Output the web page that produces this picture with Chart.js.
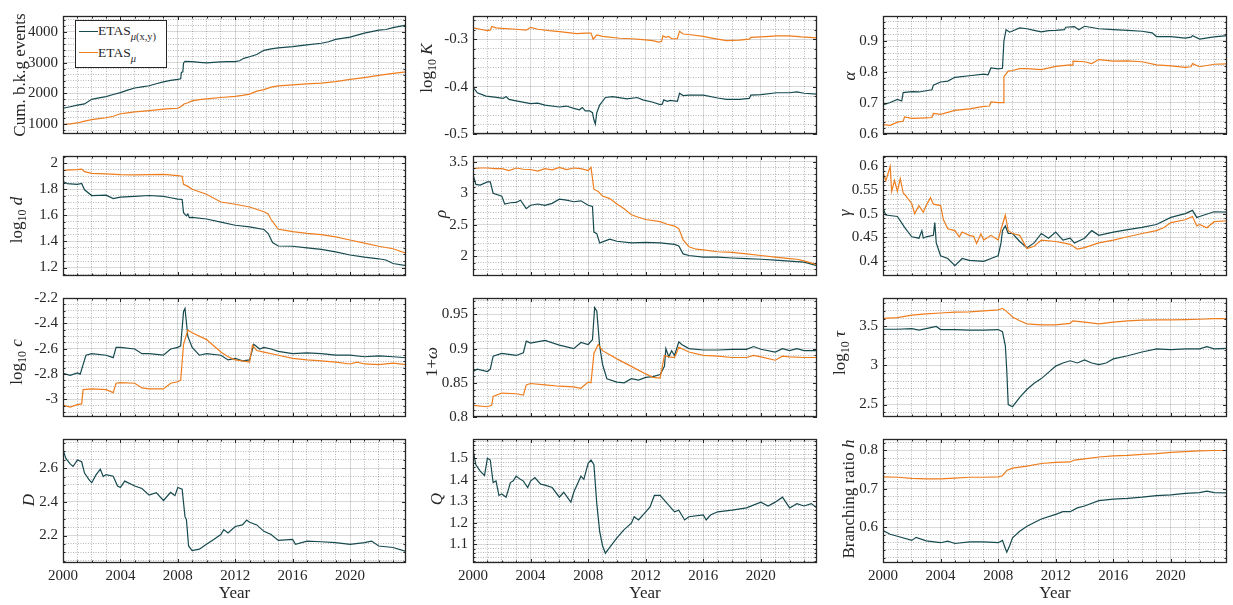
<!DOCTYPE html>
<html>
<head>
<meta charset="utf-8">
<script src="https://cdn.jsdelivr.net/npm/chart.js@4.4.1/dist/chart.umd.min.js"></script>
<style>
  body { margin: 0; background: #fff; }
  #fig { position: relative; width: 1233px; height: 605px; overflow: hidden; font-family: "Liberation Serif", "Times New Roman", serif; color: #262626; }
  .ylab { position: absolute; transform: translate(-50%, -50%) rotate(-90deg); white-space: nowrap; font-size: 17px; line-height: 18px; }
  .ylab sub, .leg sub { font-size: 12px; position: relative; top: 0.35em; vertical-align: baseline; }
  .xlab { position: absolute; transform: translate(-50%, -50%); font-size: 17px; line-height: 18px; }
  #legend { position: absolute; left: 75px; top: 20px; width: 90px; height: 46px; border: 1px solid #262626; background: #fff; }
  .lline { position: absolute; height: 1.3px; width: 19px; left: 3px; }
  .leg { position: absolute; left: 22px; font-size: 13.5px; line-height: 14px; white-space: nowrap; }
  .leg sub { font-size: 10.5px; top: 0.45em; }
</style>
</head>
<body>
<div id="fig"></div>
<script>
// x = decimal year, y = parameter value (ETAS mu(x,y) teal, ETAS mu orange)
const cumXY = [[2000,1510],[2000.5,1560],[2001,1610],[2001.5,1650],[2002,1800],[2002.5,1850],[2003,1890],[2003.5,1960],[2004,2020],[2004.5,2100],[2005,2170],[2005.5,2210],[2006,2245],[2006.5,2310],[2007,2370],[2007.5,2420],[2008,2450],[2008.2,2470],[2008.25,2680],[2008.35,2700],[2008.4,2990],[2008.5,3040],[2009,3030],[2009.5,3010],[2010,2990],[2010.5,3010],[2011,3020],[2011.5,3030],[2012,3030],[2012.3,3060],[2012.6,3140],[2013,3190],[2013.5,3265],[2014,3400],[2014.5,3450],[2015,3480],[2016,3520],[2017,3580],[2018,3630],[2018.5,3680],[2019,3755],[2020,3830],[2021,3960],[2022,4060],[2022.5,4080],[2023,4140],[2023.9,4220]];
const cumMu = [[2000,980],[2000.5,1000],[2001,1030],[2001.5,1090],[2002,1140],[2002.5,1170],[2003,1200],[2003.5,1250],[2004,1330],[2004.5,1360],[2005,1390],[2006,1430],[2007,1480],[2007.5,1500],[2008,1510],[2008.2,1560],[2008.4,1640],[2008.7,1690],[2009,1750],[2009.5,1790],[2010,1815],[2011,1860],[2012,1900],[2012.5,1930],[2013,1970],[2013.5,2070],[2014,2120],[2014.5,2200],[2015,2240],[2016,2275],[2017,2305],[2018,2330],[2019,2380],[2020,2450],[2021,2510],[2022,2580],[2023,2650],[2023.9,2700]];

const logK_XY = [[2000,-0.401],[2000.3,-0.413],[2000.9,-0.42],[2001.5,-0.422],[2002.1,-0.425],[2002.3,-0.421],[2002.5,-0.427],[2003,-0.430],[2004,-0.436],[2004.5,-0.435],[2005,-0.439],[2006,-0.443],[2006.5,-0.441],[2007,-0.446],[2007.4,-0.449],[2007.6,-0.444],[2007.8,-0.451],[2008.1,-0.451],[2008.3,-0.455],[2008.4,-0.470],[2008.5,-0.479],[2008.6,-0.455],[2008.8,-0.439],[2009.2,-0.423],[2009.7,-0.421],[2010.7,-0.426],[2011.4,-0.423],[2011.8,-0.428],[2012.5,-0.433],[2013,-0.438],[2013.15,-0.437],[2013.25,-0.428],[2013.5,-0.431],[2013.7,-0.429],[2014.2,-0.431],[2014.35,-0.414],[2014.6,-0.419],[2015,-0.418],[2016,-0.418],[2017,-0.424],[2017.6,-0.427],[2018.5,-0.427],[2019.2,-0.425],[2019.3,-0.418],[2020,-0.417],[2021.1,-0.413],[2022,-0.413],[2022.5,-0.411],[2023,-0.414],[2023.9,-0.416]];
const logK_Mu = [[2000,-0.276],[2000.5,-0.279],[2001,-0.282],[2001.2,-0.281],[2001.3,-0.273],[2001.6,-0.276],[2002,-0.277],[2003,-0.279],[2003.7,-0.281],[2004,-0.275],[2004.5,-0.279],[2005.3,-0.282],[2006,-0.284],[2007.2,-0.288],[2007.8,-0.287],[2008.2,-0.287],[2008.35,-0.3],[2008.6,-0.291],[2009,-0.294],[2010.2,-0.298],[2011,-0.299],[2011.8,-0.301],[2012.5,-0.303],[2012.9,-0.306],[2013.1,-0.305],[2013.2,-0.293],[2013.4,-0.296],[2013.6,-0.294],[2013.8,-0.299],[2014.2,-0.299],[2014.35,-0.283],[2014.6,-0.289],[2015,-0.290],[2016,-0.294],[2016.5,-0.297],[2017.6,-0.303],[2018.5,-0.302],[2019.2,-0.300],[2019.3,-0.296],[2020,-0.295],[2021.1,-0.293],[2022,-0.293],[2022.8,-0.295],[2023.9,-0.297]];

const alphaXY = [[2000,0.693],[2000.5,0.701],[2001,0.711],[2001.3,0.706],[2001.4,0.733],[2002,0.736],[2002.5,0.735],[2003,0.739],[2003.4,0.742],[2003.5,0.757],[2004,0.767],[2004.5,0.770],[2005,0.782],[2006,0.787],[2007,0.792],[2007.3,0.790],[2007.5,0.812],[2008,0.809],[2008.3,0.811],[2008.4,0.898],[2008.55,0.935],[2008.8,0.927],[2009.5,0.941],[2010,0.938],[2010.5,0.933],[2011,0.928],[2011.5,0.932],[2012,0.933],[2012.6,0.935],[2012.7,0.943],[2013.3,0.945],[2013.6,0.935],[2014,0.946],[2014.5,0.942],[2015,0.938],[2016,0.935],[2017,0.933],[2018,0.930],[2018.7,0.925],[2019,0.913],[2020,0.913],[2021,0.908],[2021.4,0.911],[2021.5,0.916],[2022,0.905],[2023,0.912],[2023.9,0.916]];
const alphaMu = [[2000,0.630],[2000.5,0.628],[2001,0.638],[2001.4,0.641],[2001.5,0.655],[2002,0.650],[2003,0.652],[2003.4,0.653],[2003.5,0.666],[2004,0.663],[2005,0.676],[2006,0.681],[2007,0.689],[2007.4,0.690],[2007.5,0.703],[2008,0.701],[2008.35,0.701],[2008.4,0.784],[2008.7,0.802],[2009,0.804],[2009.5,0.810],[2010,0.810],[2011,0.807],[2012,0.817],[2013,0.822],[2013.15,0.821],[2013.2,0.834],[2014,0.832],[2014.5,0.826],[2015,0.839],[2016,0.834],[2017,0.835],[2018,0.832],[2019,0.822],[2020,0.819],[2021,0.814],[2021.4,0.816],[2021.5,0.826],[2022,0.816],[2023,0.824],[2023.9,0.825]];

const logD_XY = [[2000,1.86],[2000.3,1.843],[2001,1.838],[2001.3,1.845],[2001.5,1.796],[2002,1.752],[2003,1.755],[2003.5,1.728],[2004,1.74],[2005,1.745],[2006,1.752],[2007,1.745],[2007.5,1.735],[2008,1.725],[2008.3,1.722],[2008.4,1.62],[2008.6,1.596],[2008.7,1.61],[2008.8,1.582],[2009,1.584],[2010,1.572],[2011,1.548],[2012,1.524],[2013,1.512],[2014,1.492],[2014.3,1.46],[2014.6,1.391],[2015,1.365],[2016,1.363],[2017,1.351],[2018,1.339],[2019,1.32],[2020,1.296],[2021,1.279],[2022,1.267],[2022.5,1.258],[2023,1.231],[2023.9,1.214]];
const logD_Mu = [[2000,1.944],[2000.5,1.948],[2001,1.950],[2001.3,1.955],[2001.5,1.935],[2002,1.922],[2003,1.918],[2004,1.912],[2005,1.910],[2006,1.912],[2007,1.914],[2008,1.905],[2008.3,1.900],[2008.4,1.838],[2008.7,1.822],[2009,1.80],[2010,1.762],[2011,1.702],[2012,1.685],[2013,1.664],[2014,1.628],[2014.3,1.610],[2014.5,1.568],[2015,1.493],[2015.5,1.485],[2016,1.475],[2017,1.462],[2018,1.452],[2019,1.435],[2020,1.411],[2021,1.387],[2022,1.363],[2023,1.344],[2023.5,1.325],[2023.9,1.31]];

const rhoXY = [[2000,3.30],[2000.2,3.14],[2000.5,3.13],[2001,3.18],[2001.2,3.18],[2001.4,3.0],[2002,2.955],[2002.2,2.83],[2002.6,2.85],[2003,2.855],[2003.3,2.89],[2003.7,2.757],[2004,2.81],[2004.5,2.83],[2005,2.81],[2005.5,2.84],[2006,2.906],[2006.5,2.89],[2007,2.866],[2007.5,2.88],[2008,2.81],[2008.3,2.79],[2008.4,2.386],[2008.6,2.36],[2008.8,2.213],[2009,2.23],[2009.5,2.272],[2010,2.24],[2011,2.213],[2012,2.223],[2013,2.213],[2014,2.19],[2014.3,2.165],[2014.6,2.04],[2015,2.015],[2016,1.99],[2017,1.99],[2018,1.975],[2019,1.965],[2020,1.955],[2021,1.94],[2022,1.925],[2023,1.91],[2023.9,1.855]];
const rhoMu = [[2000,3.39],[2000.5,3.40],[2001,3.40],[2001.5,3.39],[2002,3.39],[2002.5,3.36],[2003,3.40],[2003.5,3.38],[2004,3.376],[2004.5,3.35],[2005,3.39],[2005.5,3.37],[2006,3.41],[2006.5,3.376],[2007,3.40],[2007.5,3.39],[2008,3.36],[2008.2,3.41],[2008.4,3.064],[2008.7,3.03],[2009,2.955],[2009.5,2.915],[2010,2.83],[2010.5,2.755],[2011,2.66],[2011.5,2.62],[2012,2.584],[2013,2.55],[2013.5,2.51],[2014,2.48],[2014.3,2.44],[2014.6,2.26],[2015,2.153],[2015.5,2.114],[2016,2.104],[2017,2.074],[2018,2.064],[2019,2.04],[2020,2.015],[2021,1.99],[2022,1.965],[2022.5,1.955],[2023,1.93],[2023.9,1.87]];

const gammaXY = [[2000,0.511],[2000.2,0.497],[2001,0.494],[2001.5,0.471],[2002,0.451],[2002.5,0.448],[2002.7,0.464],[2002.8,0.448],[2003,0.451],[2003.5,0.454],[2003.6,0.481],[2003.7,0.438],[2004,0.411],[2004.5,0.405],[2005,0.39],[2005.5,0.405],[2006,0.401],[2007,0.399],[2007.5,0.405],[2008,0.411],[2008.2,0.438],[2008.3,0.464],[2008.5,0.474],[2008.7,0.458],[2009,0.458],[2009.5,0.441],[2010,0.428],[2010.5,0.438],[2011,0.458],[2011.5,0.448],[2012,0.461],[2012.5,0.444],[2013,0.448],[2013.3,0.438],[2014,0.448],[2014.5,0.464],[2015,0.454],[2016,0.461],[2017,0.466],[2018,0.471],[2019,0.477],[2020,0.492],[2021,0.50],[2021.5,0.507],[2021.8,0.492],[2022,0.494],[2023,0.504],[2023.9,0.503]];
const gammaMu = [[2000,0.587],[2000.2,0.570],[2000.35,0.585],[2000.5,0.60],[2000.6,0.547],[2000.8,0.570],[2001,0.547],[2001.2,0.574],[2001.4,0.544],[2001.6,0.537],[2002,0.521],[2002.2,0.50],[2002.5,0.517],[2002.8,0.503],[2003,0.517],[2003.3,0.534],[2003.5,0.52],[2004,0.517],[2004.2,0.487],[2004.5,0.468],[2005,0.464],[2005.3,0.451],[2005.5,0.461],[2006,0.454],[2006.3,0.452],[2006.5,0.437],[2006.8,0.457],[2007,0.444],[2007.5,0.454],[2008,0.444],[2008.2,0.467],[2008.5,0.497],[2008.7,0.464],[2009,0.458],[2009.5,0.454],[2010,0.426],[2010.5,0.431],[2011,0.444],[2012,0.441],[2012.5,0.438],[2013,0.435],[2013.5,0.425],[2014,0.428],[2015,0.438],[2016,0.444],[2017,0.451],[2018,0.458],[2019,0.464],[2019.5,0.470],[2020,0.481],[2021,0.487],[2021.5,0.494],[2021.8,0.474],[2022,0.477],[2022.5,0.470],[2023,0.483],[2023.9,0.485]];

const logC_XY = [[2000,-2.794],[2000.5,-2.81],[2001,-2.79],[2001.2,-2.80],[2001.4,-2.725],[2001.6,-2.651],[2002,-2.639],[2003,-2.651],[2003.5,-2.67],[2003.7,-2.589],[2004,-2.589],[2005,-2.602],[2005.5,-2.639],[2006,-2.639],[2007,-2.651],[2007.5,-2.602],[2008,-2.589],[2008.2,-2.577],[2008.4,-2.306],[2008.5,-2.282],[2008.7,-2.503],[2009,-2.589],[2009.5,-2.651],[2010,-2.639],[2011,-2.651],[2011.5,-2.688],[2012,-2.676],[2012.5,-2.695],[2013,-2.688],[2013.3,-2.565],[2013.7,-2.602],[2014,-2.589],[2014.5,-2.602],[2015,-2.621],[2016,-2.639],[2017,-2.632],[2018,-2.639],[2019,-2.651],[2020,-2.651],[2021,-2.663],[2022,-2.656],[2023,-2.663],[2023.9,-2.671]];
const logC_Mu = [[2000,-3.045],[2000.5,-3.06],[2001,-3.04],[2001.3,-3.035],[2001.4,-2.922],[2002,-2.917],[2003,-2.922],[2003.5,-2.946],[2003.7,-2.872],[2004,-2.867],[2005,-2.872],[2005.5,-2.909],[2006,-2.917],[2007,-2.917],[2007.5,-2.872],[2008,-2.86],[2008.2,-2.848],[2008.4,-2.565],[2008.7,-2.454],[2009,-2.474],[2010,-2.528],[2011,-2.626],[2011.5,-2.663],[2012,-2.688],[2013,-2.705],[2013.2,-2.572],[2013.5,-2.614],[2014,-2.626],[2015,-2.651],[2016,-2.676],[2017,-2.688],[2018,-2.695],[2019,-2.705],[2020,-2.72],[2020.5,-2.705],[2021,-2.72],[2022,-2.725],[2023,-2.713],[2023.9,-2.725]];

const omegaXY = [[2000,0.8665],[2000.3,0.870],[2001,0.8665],[2001.2,0.870],[2001.4,0.889],[2002,0.893],[2003,0.890],[2003.5,0.894],[2003.7,0.911],[2004,0.908],[2005,0.912],[2006,0.905],[2007,0.90],[2007.5,0.909],[2008,0.906],[2008.3,0.913],[2008.45,0.960],[2008.6,0.955],[2008.8,0.904],[2009,0.877],[2009.3,0.856],[2010,0.851],[2010.5,0.850],[2011,0.856],[2011.5,0.854],[2012,0.858],[2012.5,0.859],[2013,0.862],[2013.3,0.874],[2013.4,0.90],[2013.6,0.888],[2013.8,0.897],[2014,0.890],[2014.3,0.910],[2014.5,0.906],[2015,0.90],[2016,0.898],[2017,0.898],[2018,0.899],[2019,0.899],[2019.5,0.903],[2020,0.899],[2021,0.895],[2021.5,0.900],[2022,0.897],[2022.5,0.900],[2023,0.897],[2023.9,0.897]];
const omegaMu = [[2000,0.817],[2001,0.815],[2001.3,0.817],[2001.4,0.830],[2002,0.835],[2003,0.834],[2003.5,0.832],[2003.7,0.847],[2004,0.849],[2005,0.847],[2006,0.845],[2007,0.844],[2007.5,0.842],[2008,0.851],[2008.2,0.850],[2008.4,0.893],[2008.7,0.906],[2009,0.897],[2010,0.885],[2011,0.874],[2012,0.863],[2012.5,0.858],[2013,0.857],[2013.3,0.890],[2013.6,0.888],[2014,0.887],[2014.3,0.902],[2015,0.895],[2016,0.890],[2017,0.889],[2018,0.887],[2019,0.887],[2019.5,0.890],[2020,0.888],[2021,0.883],[2021.5,0.889],[2022,0.888],[2023,0.887],[2023.9,0.887]];

const tauXY = [[2000,3.464],[2001,3.464],[2002,3.472],[2002.5,3.452],[2003,3.472],[2003.7,3.50],[2004,3.46],[2005,3.46],[2006,3.452],[2007,3.452],[2008,3.46],[2008.3,3.432],[2008.5,3.252],[2008.6,2.932],[2008.7,2.50],[2009,2.472],[2009.5,2.592],[2010,2.692],[2010.5,2.772],[2011,2.832],[2011.5,2.912],[2012,2.992],[2012.5,3.032],[2013,3.06],[2013.5,3.032],[2014,3.072],[2014.5,3.032],[2015,3.012],[2015.5,3.032],[2016,3.084],[2017,3.124],[2018,3.172],[2019,3.212],[2020,3.204],[2021,3.212],[2022,3.212],[2022.5,3.24],[2023,3.212],[2023.9,3.22]];
const tauMu = [[2000,3.604],[2001,3.612],[2002,3.644],[2003,3.66],[2004,3.672],[2005,3.684],[2006,3.686],[2007,3.70],[2008,3.712],[2008.3,3.732],[2008.6,3.69],[2009,3.62],[2009.5,3.572],[2010,3.532],[2011,3.52],[2012,3.52],[2013,3.54],[2013.2,3.572],[2014,3.556],[2015,3.532],[2016,3.556],[2017,3.572],[2018,3.58],[2019,3.584],[2020,3.584],[2021,3.588],[2022,3.592],[2023,3.60],[2023.9,3.60]];

const dimD = [[2000,2.71],[2000.2,2.658],[2000.5,2.625],[2000.7,2.61],[2001,2.648],[2001.3,2.638],[2001.5,2.571],[2001.8,2.533],[2002,2.513],[2002.3,2.56],[2002.6,2.594],[2002.8,2.55],[2003,2.562],[2003.5,2.552],[2003.8,2.494],[2004,2.485],[2004.3,2.523],[2005,2.494],[2005.5,2.479],[2006,2.44],[2006.5,2.455],[2007,2.408],[2007.5,2.456],[2007.8,2.437],[2008,2.485],[2008.3,2.475],[2008.5,2.312],[2008.6,2.294],[2008.75,2.138],[2009,2.11],[2009.5,2.119],[2010,2.148],[2010.5,2.177],[2011,2.206],[2011.2,2.235],[2011.5,2.215],[2012,2.254],[2012.5,2.263],[2012.8,2.292],[2013,2.279],[2013.5,2.263],[2014,2.225],[2014.5,2.206],[2015,2.171],[2016,2.177],[2016.2,2.148],[2017,2.167],[2018,2.163],[2019,2.158],[2020,2.148],[2021,2.158],[2021.5,2.167],[2022,2.138],[2023,2.129],[2023.9,2.106]];
const qVal = [[2000,1.538],[2000.2,1.47],[2000.5,1.44],[2000.8,1.42],[2001,1.50],[2001.2,1.492],[2001.4,1.387],[2001.6,1.395],[2001.8,1.327],[2002,1.334],[2002.3,1.319],[2002.6,1.387],[2002.8,1.395],[2003,1.417],[2003.3,1.402],[2003.5,1.394],[2003.8,1.364],[2004,1.394],[2004.3,1.41],[2004.7,1.38],[2005,1.375],[2005.5,1.364],[2006,1.319],[2006.3,1.342],[2006.8,1.296],[2007,1.342],[2007.3,1.387],[2007.5,1.417],[2007.7,1.402],[2008,1.477],[2008.2,1.492],[2008.4,1.47],[2008.6,1.289],[2008.8,1.16],[2009,1.093],[2009.2,1.058],[2009.5,1.085],[2010,1.13],[2010.5,1.168],[2011,1.198],[2011.2,1.228],[2011.5,1.213],[2012,1.251],[2012.3,1.274],[2012.6,1.327],[2013,1.327],[2013.5,1.289],[2014,1.251],[2014.3,1.258],[2014.7,1.213],[2015,1.228],[2016,1.236],[2016.2,1.213],[2016.5,1.236],[2017,1.251],[2018,1.259],[2019,1.269],[2020,1.296],[2020.5,1.278],[2021,1.296],[2021.5,1.319],[2022,1.269],[2022.5,1.289],[2023,1.278],[2023.5,1.289],[2023.9,1.269]];

const hXY = [[2000,0.591],[2000.5,0.581],[2001,0.576],[2002,0.565],[2002.3,0.573],[2003,0.564],[2004,0.559],[2004.5,0.563],[2005,0.557],[2006,0.561],[2007,0.561],[2008,0.559],[2008.3,0.565],[2008.45,0.549],[2008.6,0.534],[2008.8,0.551],[2009,0.572],[2009.5,0.589],[2010,0.602],[2011,0.621],[2012,0.633],[2012.5,0.640],[2013,0.640],[2013.5,0.65],[2014,0.655],[2015,0.669],[2016,0.673],[2017,0.675],[2018,0.678],[2019,0.682],[2020,0.684],[2021,0.688],[2022,0.69],[2022.5,0.694],[2023,0.69],[2023.9,0.689]];
const hMu = [[2000,0.731],[2001,0.730],[2002,0.727],[2003,0.726],[2004,0.726],[2005,0.728],[2006,0.730],[2007,0.730],[2008,0.731],[2008.3,0.734],[2008.6,0.748],[2009,0.754],[2010,0.759],[2011,0.766],[2012,0.769],[2013,0.770],[2013.3,0.775],[2014,0.778],[2015,0.783],[2016,0.786],[2017,0.787],[2018,0.79],[2019,0.792],[2020,0.795],[2021,0.797],[2022,0.799],[2023,0.80],[2023.9,0.80]];

const yearTicks = [2000,2001,2002,2003,2004,2005,2006,2007,2008,2009,2010,2011,2012,2013,2014,2015,2016,2017,2018,2019,2020,2021,2022,2023];

const panels = [
  { series: [cumXY, cumMu],     min: 670,    max: 4520,  major: 1000, minor: 200 },
  { series: [logK_XY, logK_Mu], min: -0.5,   max: -0.251, major: 0.1, minor: 0.02 },
  { series: [alphaXY, alphaMu], min: 0.6,    max: 0.979, major: 0.1, minor: 0.02 },
  { series: [logD_XY, logD_Mu], min: 1.135,  max: 2.055, major: 0.2, minor: 0.05 },
  { series: [rhoXY, rhoMu],     min: 1.69,   max: 3.59,  major: 0.5, minor: 0.1 },
  { series: [gammaXY, gammaMu], min: 0.368,  max: 0.622, major: 0.05, minor: 0.01 },
  { series: [logC_XY, logC_Mu], min: -3.138, max: -2.2,  major: 0.2, minor: 0.05 },
  { series: [omegaXY, omegaMu], min: 0.8,    max: 0.974, major: 0.05, minor: 0.01 },
  { series: [tauXY, tauMu],     min: 2.34,   max: 3.864, major: 0.5, minor: 0.1 },
  { series: [dimD],             min: 2.037,  max: 2.773, major: 0.2, minor: 0.05 },
  { series: [qVal],             min: 1.0125, max: 1.59,  major: 0.1, minor: 0.02 },
  { series: [hXY, hMu],         min: 0.506,  max: 0.83,  major: 0.1, minor: 0.02 }
];

// plot-area boxes [left, top, width, height]
const boxes = [
  [63, 12, 343, 126], [473, 12, 344, 126], [883, 12, 344, 126],
  [63, 152, 343, 128], [473, 152, 344, 128], [883, 152, 344, 128],
  [63, 294, 343, 127], [473, 294, 344, 127], [883, 294, 344, 127],
  [63, 435, 343, 128], [473, 435, 344, 128], [883, 435, 344, 128]
];

const yTitles = [
  ['Cum. b.k.g events', 20, 75],
  ['log<sub>10</sub> <i>K</i>', 427, 68],
  ['<i>α</i>', 850, 76],
  ['log<sub>10</sub> <i>d</i>', 17, 220],
  ['<i>ρ</i>', 441, 214],
  ['<i>γ</i>', 845, 213],
  ['log<sub>10</sub> <i>c</i>', 17, 362],
  ['1+<i>ω</i>', 432, 362],
  ['log<sub>10</sub> <i>τ</i>', 840, 353],
  ['<i>D</i>', 29, 500],
  ['<i>Q</i>', 437, 499],
  ['Branching ratio <i>h</i>', 849, 499]
];

const FONT = '"Liberation Serif", "Times New Roman", serif';
const TEAL = '#164a4f';
const ORANGE = '#ee7d1e';
const MAJOR_GRID = 'rgba(0,0,0,0.15)';
const MINOR_GRID = 'rgba(0,0,0,0.28)';
const AXIS = '#262626';

const isMajor = (v, step) => Math.abs(v / step - Math.round(v / step)) < 1e-6;
const fmt = v => String(parseFloat(v.toFixed(4)));

// matlab style box with inward ticks
const boxPlugin = {
  id: 'matlabBox',
  afterDatasetsDraw(chart, args, opts) {
    const { ctx, chartArea: a, scales: { x, y } } = chart;
    ctx.save();
    ctx.strokeStyle = AXIS;
    ctx.lineWidth = 1;
    ctx.beginPath();
    x.ticks.forEach(t => {
      const px = Math.round(x.getPixelForValue(t.value)) + 0.5;
      const len = t.value % 4 === 0 ? 4 : 2.5;
      ctx.moveTo(px, a.bottom); ctx.lineTo(px, a.bottom - len);
      ctx.moveTo(px, a.top); ctx.lineTo(px, a.top + len);
    });
    y.ticks.forEach(t => {
      const py = Math.round(y.getPixelForValue(t.value)) + 0.5;
      const len = isMajor(t.value, opts.major) ? 4 : 2.5;
      ctx.moveTo(a.left, py); ctx.lineTo(a.left + len, py);
      ctx.moveTo(a.right, py); ctx.lineTo(a.right - len, py);
    });
    ctx.stroke();
    ctx.lineWidth = 1.3;
    ctx.strokeRect(Math.round(a.left) + 0.5, Math.round(a.top) + 0.5, Math.round(a.width) - 1, Math.round(a.height) - 1);
    ctx.restore();
  }
};

const fig = document.getElementById('fig');

panels.forEach((p, i) => {
  const [L, T, W, H] = boxes[i];
  const bottomRow = i >= 9;
  const yW = 60, padTop = 10, padRight = 8;
  const padBottom = bottomRow ? 0 : 10;
  const xH = bottomRow ? 30 : 0;
  const cw = W + yW + padRight, ch = H + padTop + padBottom + xH;

  const cv = document.createElement('canvas');
  cv.width = cw; cv.height = ch;
  cv.style.cssText = `position:absolute;left:${L - yW}px;top:${T - padTop}px;width:${cw}px;height:${ch}px`;
  fig.appendChild(cv);

  new Chart(cv, {
    type: 'line',
    data: {
      datasets: p.series.map((d, k) => ({
        data: d,
        borderColor: k ? ORANGE : TEAL,
        borderWidth: 1.2,
        pointRadius: 0,
        tension: 0,
        order: k ? 0 : 1
      }))
    },
    options: {
      responsive: false,
      animation: false,
      layout: { padding: { top: padTop, right: padRight, bottom: padBottom, left: 0 } },
      plugins: { legend: { display: false }, tooltip: { enabled: false }, matlabBox: { major: p.major } },
      scales: {
        x: {
          type: 'linear', min: 2000, max: 2023.9,
          afterBuildTicks: s => { s.ticks = yearTicks.map(v => ({ value: v })); },
          afterFit: s => { s.height = xH; },
          grid: {
            drawTicks: false, lineWidth: 1,
            color: c => (c.tick && c.tick.value % 4 === 0) ? MAJOR_GRID : MINOR_GRID
          },
          border: { display: false, dash: c => (c.tick && c.tick.value % 4 !== 0) ? [1, 1.5] : [] },
          ticks: {
            display: bottomRow, autoSkip: false, maxRotation: 0, padding: 4, color: AXIS,
            font: { family: FONT, size: 15 },
            callback: v => v % 4 === 0 ? String(v) : ''
          }
        },
        y: {
          type: 'linear', min: p.min, max: p.max,
          afterBuildTicks: s => {
            const t = [];
            const k0 = Math.ceil(p.min / p.minor - 1e-6), k1 = Math.floor(p.max / p.minor + 1e-6);
            for (let k = k0; k <= k1; k++) t.push({ value: +(k * p.minor).toFixed(6) });
            s.ticks = t;
          },
          afterFit: s => { s.width = yW; },
          grid: {
            drawTicks: false, lineWidth: 1,
            color: c => (c.tick && isMajor(c.tick.value, p.major)) ? MAJOR_GRID : MINOR_GRID
          },
          border: { display: false, dash: c => (c.tick && !isMajor(c.tick.value, p.major)) ? [1, 1.5] : [] },
          ticks: {
            autoSkip: false, padding: 5, color: AXIS,
            font: { family: FONT, size: 15 },
            callback: v => isMajor(v, p.major) ? fmt(v) : ''
          }
        }
      }
    },
    plugins: [boxPlugin]
  });
});

yTitles.forEach(([html, x, y]) => {
  const d = document.createElement('div');
  d.className = 'ylab';
  d.innerHTML = html;
  d.style.left = x + 'px';
  d.style.top = y + 'px';
  fig.appendChild(d);
});

[234.5, 645, 1055].forEach(x => {
  const d = document.createElement('div');
  d.className = 'xlab';
  d.textContent = 'Year';
  d.style.left = x + 'px';
  d.style.top = '593px';
  fig.appendChild(d);
});

// legend
const legend = document.createElement('div');
legend.id = 'legend';
legend.innerHTML =
  `<div class="lline" style="top:10px;background:${TEAL}"></div>` +
  `<div class="leg" style="top:3px">ETAS<sub><i>μ</i>(x,y)</sub></div>` +
  `<div class="lline" style="top:31px;background:${ORANGE}"></div>` +
  `<div class="leg" style="top:25px">ETAS<sub><i>μ</i></sub></div>`;
fig.appendChild(legend);
</script>
</body>
</html>
